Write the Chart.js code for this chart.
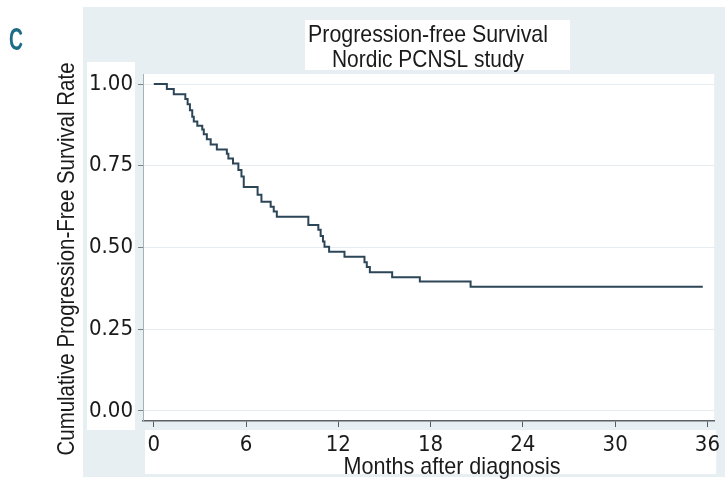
<!DOCTYPE html>
<html>
<head>
<meta charset="utf-8">
<script src="https://cdn.jsdelivr.net/npm/chart.js@4.4.1/dist/chart.umd.min.js"></script>
<style>
  html, body { margin: 0; padding: 0; background: #ffffff; overflow: hidden; }
  #wrap { position: relative; width: 725px; height: 485px; }
</style>
</head>
<body>
<div id="wrap"><canvas id="c" width="725" height="485"></canvas></div>
<script>
// ---- data (Kaplan-Meier step curve) ----
const months   = [0, 0.85, 1.3, 2.05, 2.2, 2.35, 2.5, 2.6, 2.83, 3.15, 3.25, 3.45, 3.7, 4.1, 4.75, 4.85, 5.15, 5.5, 5.7, 5.85, 6.75, 7.0, 7.6, 7.8, 8.0, 10.05, 10.7, 10.85, 11.0, 11.1, 11.4, 12.4, 13.7, 13.85, 14.05, 15.5, 17.3, 20.6, 35.7];
const survival = [1.0, 0.985, 0.969, 0.954, 0.938, 0.92, 0.9, 0.885, 0.872, 0.861, 0.846, 0.831, 0.815, 0.8, 0.787, 0.772, 0.757, 0.737, 0.717, 0.685, 0.661, 0.64, 0.625, 0.61, 0.594, 0.569, 0.554, 0.535, 0.518, 0.502, 0.487, 0.472, 0.455, 0.44, 0.424, 0.409, 0.396, 0.38, 0.38];
const xTicks = [0, 6, 12, 18, 24, 30, 36];
const yTicks = [0, 0.25, 0.5, 0.75, 1.0];
const titleLines = ["Progression-free Survival", "Nordic PCNSL study"];
const xTitle = "Months after diagnosis";
const yTitle = "Cumulative Progression-Free Survival Rate";
const panelLabel = "C";

const TICKFONT = "'DejaVu Sans Condensed', 'Liberation Sans', sans-serif";
const TEXTFONT = "'Liberation Sans', Arial, sans-serif";
const BLUE = '#e7eff2';

// draw text squeezed horizontally to a given width (emulates a narrow face)
function fitText(ctx, text, cx, y, width) {
  const w = ctx.measureText(text).width;
  ctx.save();
  ctx.translate(cx, y);
  ctx.scale(width / w, 1);
  ctx.textAlign = 'center';
  ctx.fillText(text, 0, 0);
  ctx.restore();
}

const backgroundPlugin = {
  id: 'bgPanels',
  beforeDraw(chart) {
    const ctx = chart.ctx;
    const a = chart.chartArea;
    ctx.save();
    ctx.fillStyle = '#ffffff';
    ctx.fillRect(0, 0, chart.width, chart.height);
    ctx.fillStyle = BLUE;
    ctx.fillRect(83, 7, chart.width - 83, 470);
    ctx.fillStyle = '#ffffff';
    ctx.fillRect(305, 20, 265, 50);
    ctx.fillRect(a.left, a.top, a.right - a.left, a.bottom - a.top);
    ctx.fillRect(87, 62, 48, 368);
    ctx.fillRect(a.left + 2, 430, a.right - a.left, 44);
    ctx.restore();
  },
  afterDraw(chart) {
    const ctx = chart.ctx;
    ctx.save();
    ctx.fillStyle = '#1a1a1a';
    ctx.textBaseline = 'alphabetic';
    ctx.font = "24px " + TEXTFONT;
    fitText(ctx, titleLines[0], 428, 42, 240);
    fitText(ctx, titleLines[1], 428, 67, 192);
    fitText(ctx, xTitle, 452, 474, 217);
    ctx.save();
    ctx.translate(74, 259);
    ctx.rotate(-Math.PI / 2);
    fitText(ctx, yTitle, 0, 0, 393);
    ctx.restore();
    ctx.fillStyle = '#1d6b87';
    ctx.font = "bold 31px " + TEXTFONT;
    fitText(ctx, panelLabel, 16, 50, 14);
    ctx.restore();
  }
};

new Chart(document.getElementById('c'), {
  type: 'line',
  data: {
    datasets: [{
      data: months.map((m, i) => ({ x: m, y: survival[i] })),
      stepped: 'before',
      borderColor: '#2c4658',
      borderWidth: 2,
      pointRadius: 0,
      fill: false
    }]
  },
  options: {
    responsive: false,
    animation: false,
    devicePixelRatio: 1,
    layout: { padding: { top: 74, left: 0, right: 0, bottom: 0 } },
    plugins: { legend: { display: false }, tooltip: { enabled: false }, title: { display: false } },
    scales: {
      x: {
        type: 'linear',
        min: -0.702,
        max: 36.44,
        afterBuildTicks(scale) { scale.ticks = xTicks.map(v => ({ value: v })); },
        afterFit(scale) { scale.height = 64; },
        grid: { drawOnChartArea: false, drawTicks: true, tickLength: 6, tickColor: '#555c62', tickWidth: 1 },
        border: { display: true, color: '#5a6268', width: 1.5 },
        ticks: { color: '#1a1a1a', font: { family: TICKFONT, size: 22 }, padding: 5, maxRotation: 0, autoSkip: false,
                 callback: v => String(v) }
      },
      y: {
        type: 'linear',
        min: -0.0306,
        max: 1.0306,
        afterBuildTicks(scale) { scale.ticks = yTicks.map(v => ({ value: v })); },
        afterFit(scale) { scale.width = 143; },
        grid: { drawOnChartArea: true, color: '#e6ecef', lineWidth: 1, drawTicks: true, tickLength: 5, tickColor: '#7b8389' },
        border: { display: true, color: '#a9b1b6', width: 1 },
        ticks: { color: '#1a1a1a', font: { family: TICKFONT, size: 22 }, padding: 5,
                 callback: v => Number(v).toFixed(2) }
      }
    }
  },
  plugins: [backgroundPlugin]
});
</script>
</body>
</html>
